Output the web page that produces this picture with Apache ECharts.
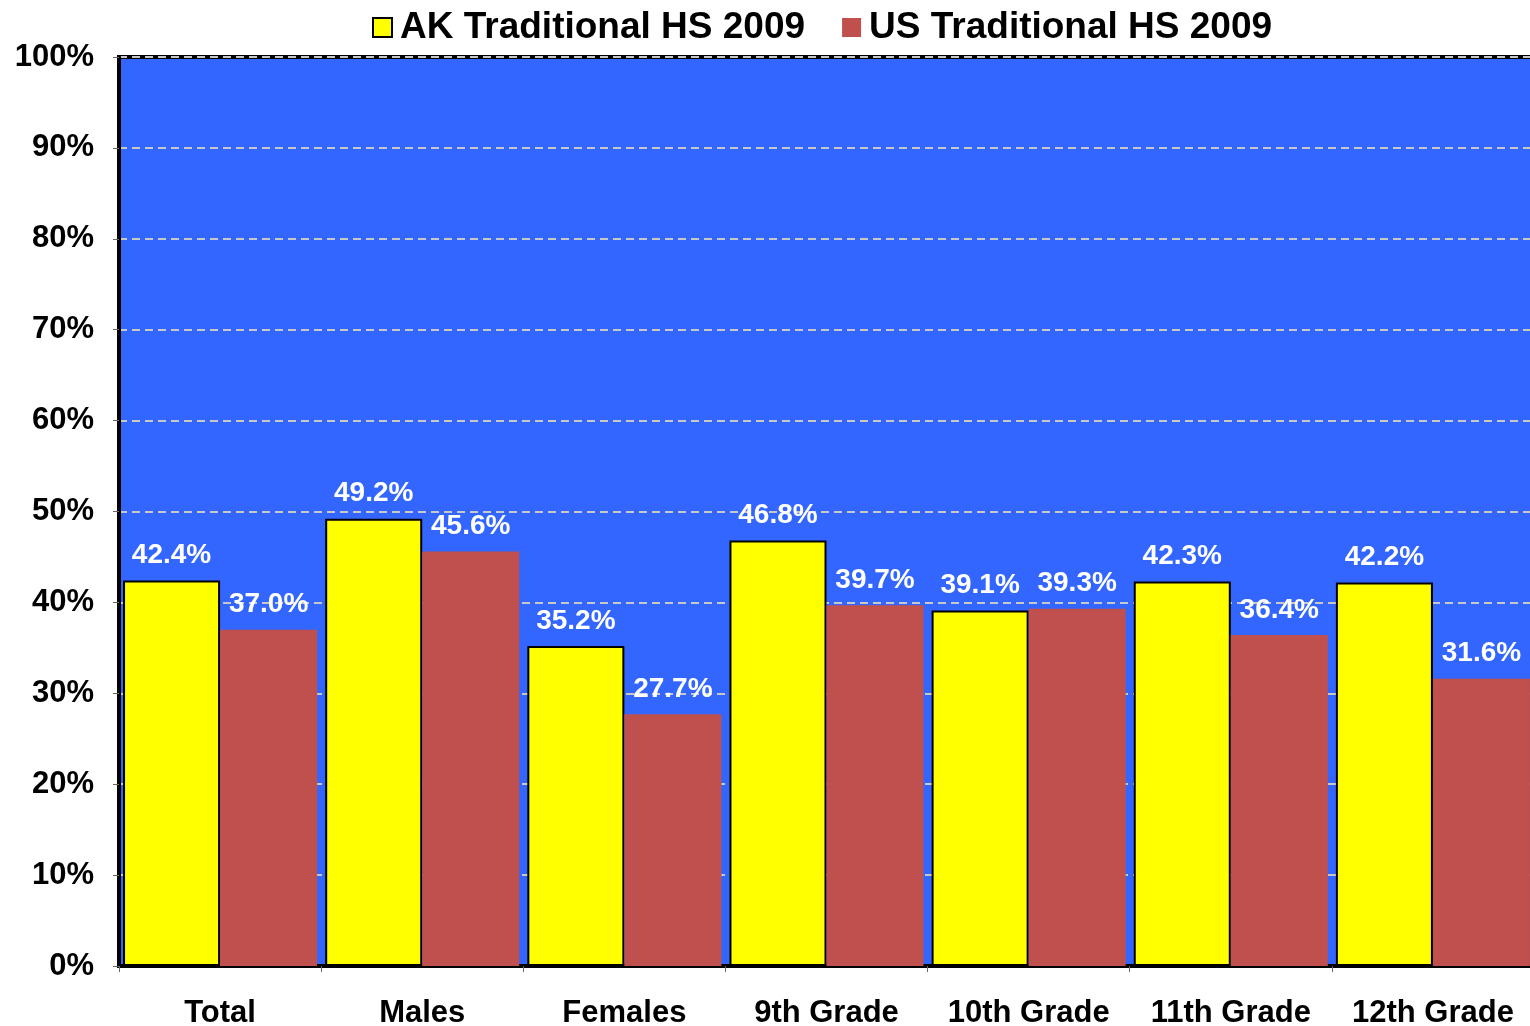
<!DOCTYPE html>
<html>
<head>
<meta charset="utf-8">
<script src="https://cdn.jsdelivr.net/npm/echarts@6/dist/echarts.min.js"></script>
<style>
html,body{margin:0;padding:0;background:#fff;}
#chart{width:1530px;height:1026px;}
</style>
</head>
<body>
<div id="chart"></div>
<script>
const categories = ['Total', 'Males', 'Females', '9th Grade', '10th Grade', '11th Grade', '12th Grade'];
const akValues = [42.4, 49.2, 35.2, 46.8, 39.1, 42.3, 42.2];
const usValues = [37.0, 45.6, 27.7, 39.7, 39.3, 36.4, 31.6];
const seriesNames = ['AK Traditional HS 2009', 'US Traditional HS 2009'];

const FONT = '"Liberation Sans", Arial, sans-serif';
const chart = echarts.init(document.getElementById('chart'));

const labelStyle = {
  show: true,
  position: 'top',
  distance: 11,
  color: '#ffffff',
  fontFamily: FONT,
  fontWeight: 'bold',
  fontSize: 28,
  formatter: p => p.value.toFixed(1) + '%'
};

chart.setOption({
  animation: false,
  textStyle: { fontFamily: FONT },
  legend: {
    top: 4,
    left: 367,
    itemWidth: 19,
    itemHeight: 19,
    itemGap: 37,
    textStyle: { fontFamily: FONT, fontWeight: 'bold', fontSize: 37, color: '#000', padding: [0, 0, 0, 3] },
    data: [
      { name: seriesNames[0], icon: 'rect', itemStyle: { color: '#ffff00', borderColor: '#000', borderWidth: 2 } },
      { name: seriesNames[1], icon: 'rect', itemStyle: { color: '#c0504d', borderWidth: 0 } }
    ]
  },
  grid: {
    left: 119,
    right: -4,
    top: 57,
    bottom: 60,
    outerBoundsMode: 'none',
    containLabel: false,
    show: true,
    backgroundColor: '#3366ff',
    borderColor: '#000',
    borderWidth: 4
  },
  xAxis: {
    type: 'category',
    data: categories,
    axisLine: { show: true, lineStyle: { color: '#000', width: 3 } },
    axisTick: { show: true, length: 6, lineStyle: { color: '#666', width: 1 } },
    axisLabel: {
      interval: 0,
      margin: 32,
      color: '#000',
      fontFamily: FONT,
      fontWeight: 'bold',
      fontSize: 31
    }
  },
  yAxis: {
    type: 'value',
    min: 0,
    max: 100,
    interval: 10,
    axisLine: { show: true, lineStyle: { color: '#000', width: 4 } },
    axisTick: { show: true, length: 6, lineStyle: { color: '#666', width: 1 } },
    axisLabel: {
      margin: 25,
      color: '#000',
      fontFamily: FONT,
      fontWeight: 'bold',
      fontSize: 31,
      formatter: v => v + '%'
    },
    splitLine: { show: true, lineStyle: { color: '#c8c8c8', width: 2, type: [8, 5] } }
  },
  series: [
    {
      name: seriesNames[0],
      type: 'bar',
      data: akValues,
      barGap: '0%',
      barCategoryGap: '4%',
      itemStyle: { color: '#ffff00', borderColor: '#000', borderWidth: 2 },
      label: labelStyle
    },
    {
      name: seriesNames[1],
      type: 'bar',
      data: usValues,
      itemStyle: { color: '#c0504d' },
      label: labelStyle
    }
  ]
});
</script>
</body>
</html>
